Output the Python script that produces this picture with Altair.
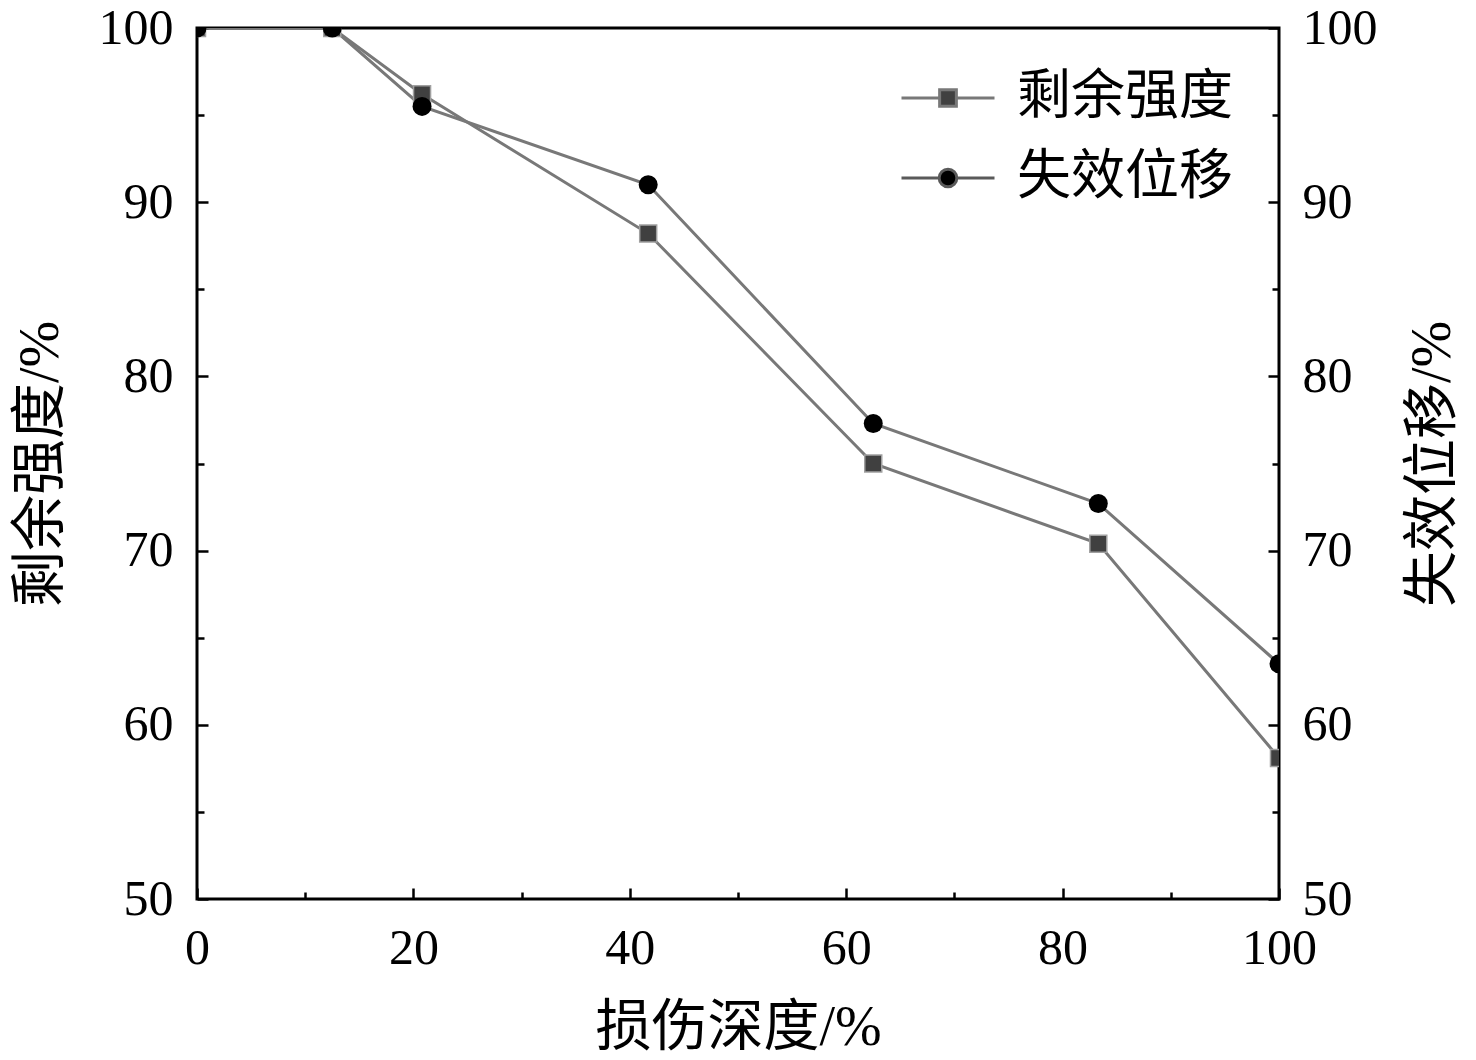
import altair as alt
import pandas as pd

# ---- data ----
depth = [0, 12.5, 20.8, 41.7, 62.5, 83.3, 100]
strength = [100, 100, 96.2, 88.2, 75.0, 70.4, 58.1]
displacement = [100, 100, 95.5, 91.0, 77.3, 72.7, 63.5]
series_names = ["剩余强度", "失效位移"]
x_major = [0, 20, 40, 60, 80, 100]
x_minor = [10, 30, 50, 70, 90]
y_major = [50, 60, 70, 80, 90, 100]
y_minor = [55, 65, 75, 85, 95]

df_s = pd.DataFrame({"depth": depth, "value": strength})
df_d = pd.DataFrame({"depth": depth, "value": displacement})
legend_df = pd.DataFrame({"series": series_names})

LINE_C = "#787878"
SERIF = "Liberation Serif"
MIXED = "Liberation Serif, Noto Sans CJK SC"
TICKW = 2.5


def xs():
    return alt.Scale(domain=[0, 100], nice=False, zero=False)


def ys():
    return alt.Scale(domain=[50, 100], nice=False, zero=False)


def major_axis(orient, values, title, label_pad, title_pad, **kw):
    return alt.Axis(
        orient=orient, values=values, title=title, domain=False, grid=False,
        ticks=True, tickSize=11, offset=-11, tickWidth=TICKW, tickColor="black",
        labels=True, labelFont=SERIF, labelFontSize=50, labelColor="black",
        labelPadding=label_pad, labelFlush=False, labelOverlap=False,
        titleFont=MIXED, titleFontSize=56, titleFontWeight="normal",
        titleColor="black", titlePadding=title_pad, **kw)


def minor_axis(orient, values):
    return alt.Axis(
        orient=orient, values=values, title=None, domain=False, grid=False,
        ticks=True, tickSize=7, offset=-7, tickWidth=TICKW, tickColor="black",
        labels=False)


line_s = alt.Chart(df_s).mark_line(color=LINE_C, strokeWidth=3, clip=True).encode(
    x=alt.X("depth:Q", scale=xs(),
            axis=major_axis("bottom", x_major, "损伤深度/%", 24, 27)),
    y=alt.Y("value:Q", scale=ys(),
            axis=major_axis("left", y_major, "剩余强度/%", 24, 29)),
)

line_d = alt.Chart(df_d).mark_line(color=LINE_C, strokeWidth=3, clip=True).encode(
    x=alt.X("depth:Q", scale=xs(), axis=minor_axis("bottom", x_minor)),
    y=alt.Y("value:Q", scale=ys(),
            axis=major_axis("right", y_major, "失效位移/%", 23, 28,
                            titleAngle=270, titleBaseline="top")),
)

pts_s = alt.Chart(df_s).mark_point(
    shape="square", filled=True, fill="#404040", stroke="#a0a0a0",
    strokeWidth=1.5, size=289, opacity=1, clip=True).encode(
    x=alt.X("depth:Q", scale=xs(), axis=None),
    y=alt.Y("value:Q", scale=ys(), axis=minor_axis("left", y_minor)),
)

pts_d = alt.Chart(df_d).mark_point(
    shape="circle", filled=True, fill="#000000", size=361, opacity=1,
    clip=True).encode(
    x=alt.X("depth:Q", scale=xs(), axis=None),
    y=alt.Y("value:Q", scale=ys(), axis=minor_axis("right", y_minor)),
)

SQ = "M-1,0H-0.18M0.18,0H1M-0.18,-0.18H0.18V0.18H-0.18Z"
CI = "M-1,0H-0.17M0.17,0H1M0.19,0A0.19,0.19,0,1,1,-0.19,0A0.19,0.19,0,1,1,0.19,0Z"

leg = alt.Legend(
    orient="none", legendX=703, legendY=40, title=None,
    labelFont=MIXED, labelFontSize=54, labelColor="black", labelLimit=400,
    symbolSize=8649, symbolStrokeColor=LINE_C, symbolStrokeWidth=3,
    symbolOpacity=1, clipHeight=60, rowPadding=20, labelOffset=21, padding=0)

legend_layer = alt.Chart(legend_df).transform_filter("false").mark_point(
    filled=True, stroke=LINE_C, strokeWidth=3, size=8649, opacity=1).encode(
    shape=alt.Shape("series:N", scale=alt.Scale(domain=series_names, range=[SQ, CI]),
                    legend=leg),
    fill=alt.Fill("series:N", scale=alt.Scale(domain=series_names,
                                              range=["#404040", "#000000"]),
                  legend=leg),
    stroke=alt.Stroke("series:N", scale=alt.Scale(domain=series_names,
                                                  range=[LINE_C, "#5a5a5a"]),
                      legend=leg),
)

chart = alt.layer(line_s, line_d, pts_s, pts_d, legend_layer).resolve_axis(
    x="independent", y="independent"
).properties(
    width=1082, height=871,
    autosize=alt.AutoSizeParams(type="none"),
    padding={"left": 189, "top": 20, "right": 185, "bottom": 152},
    background="white",
).configure_view(stroke="black", strokeWidth=3)

chart.save("out.html", embed_options={"renderer": "svg", "actions": False})
